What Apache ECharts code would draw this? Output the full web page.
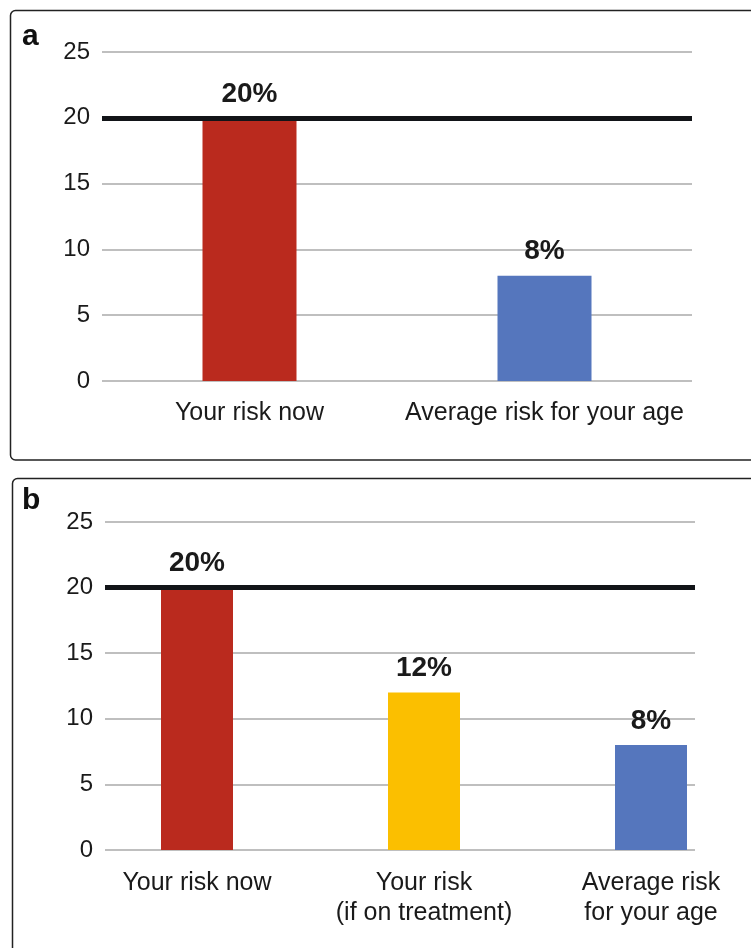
<!DOCTYPE html>
<html>
<head>
<meta charset="utf-8">
<script src="https://cdn.jsdelivr.net/npm/echarts@6/dist/echarts.min.js"></script>
<style>
  html, body { margin: 0; padding: 0; background: #fff; }
  #chart { width: 751px; height: 948px; }
</style>
</head>
<body>
<div id="chart"></div>
<script>
// Panel a: current risk versus the age average
const panelACategories = ['Your risk now', 'Average risk for your age'];
const panelAValues = [20, 8];
const panelAColors = ['#BA2A1E', '#5576BD'];

// Panel b: adds the risk on treatment
const panelBCategories = ['Your risk now', 'Your risk\n(if on treatment)', 'Average risk\nfor your age'];
const panelBValues = [20, 12, 8];
const panelBColors = ['#BA2A1E', '#FBBF00', '#5576BD'];

// Shared value scale and the treatment threshold line
const yMin = 0;
const yMax = 25;
const yStep = 5;
const thresholdValue = 20;

const FONT = '"Liberation Sans", Arial, Helvetica, sans-serif';
const TEXT = '#1a1a1a';
const GRID_LINE = '#bfbfbf';

function valueAxis(gridIndex, visible) {
  return {
    type: 'value', gridIndex: gridIndex, min: yMin, max: yMax, interval: yStep,
    show: visible,
    axisLine: { show: false }, axisTick: { show: false },
    axisLabel: { fontSize: 24, color: TEXT, fontFamily: FONT, margin: 12 },
    splitLine: { show: visible, lineStyle: { color: GRID_LINE, width: 2 } }
  };
}

function barData(values, colors) {
  return values.map((v, i) => ({ value: v, itemStyle: { color: colors[i] } }));
}

const barLabel = {
  show: true, position: 'top', distance: 10,
  formatter: '{c}%', fontSize: 28, fontWeight: 'bold', color: TEXT, fontFamily: FONT
};

const thresholdLine = {
  silent: true, symbol: ['none', 'none'],
  label: { show: false },
  lineStyle: { color: '#121418', width: 5, type: 'solid' },
  data: [{ yAxis: thresholdValue }]
};

const chart = echarts.init(document.getElementById('chart'), null, { renderer: 'canvas' });

chart.setOption({
  animation: false,
  backgroundColor: '#ffffff',
  grid: [
    // panel a: axis and bars share one grid
    { left: 102, width: 590, top: 52, height: 329 },
    // panel b: value axis with gridlines
    { left: 105, width: 590, top: 522, height: 328 },
    // panel b: bar positions (first and last category on the grid edges)
    { left: 197, width: 454, top: 522, height: 328 }
  ],
  xAxis: [
    {
      type: 'category', gridIndex: 0, data: panelACategories,
      axisLine: { show: false }, axisTick: { show: false },
      axisLabel: { interval: 0, fontSize: 25, color: TEXT, fontFamily: FONT, margin: 20 }
    },
    { type: 'category', gridIndex: 1, data: ['', ''], show: false },
    {
      type: 'category', gridIndex: 2, data: panelBCategories, boundaryGap: false,
      axisLine: { show: false }, axisTick: { show: false },
      axisLabel: { interval: 0, fontSize: 25, color: TEXT, fontFamily: FONT, margin: 18, lineHeight: 30 }
    }
  ],
  yAxis: [valueAxis(0, true), valueAxis(1, true), valueAxis(2, false)],
  series: [
    {
      type: 'bar', xAxisIndex: 0, yAxisIndex: 0, barWidth: 94,
      data: barData(panelAValues, panelAColors),
      label: barLabel,
      markLine: thresholdLine
    },
    {
      type: 'bar', xAxisIndex: 2, yAxisIndex: 2, barWidth: 72, clip: false,
      data: barData(panelBValues, panelBColors),
      label: barLabel
    },
    {
      type: 'line', xAxisIndex: 1, yAxisIndex: 1, data: [],
      markLine: thresholdLine
    }
  ],
  graphic: [
    {
      type: 'rect', shape: { x: 10.5, y: 10.5, width: 780, height: 449.5, r: 5 },
      style: { fill: 'none', stroke: '#222', lineWidth: 1.5 }, z: 10
    },
    {
      type: 'rect', shape: { x: 12.5, y: 478.5, width: 780, height: 520, r: 5 },
      style: { fill: 'none', stroke: '#222', lineWidth: 1.5 }, z: 10
    },
    {
      type: 'text', left: 22, top: 22,
      style: { text: 'a', font: 'bold 30px ' + FONT, fill: '#111' }
    },
    {
      type: 'text', left: 22, top: 486,
      style: { text: 'b', font: 'bold 30px ' + FONT, fill: '#111' }
    }
  ]
});
</script>
</body>
</html>
